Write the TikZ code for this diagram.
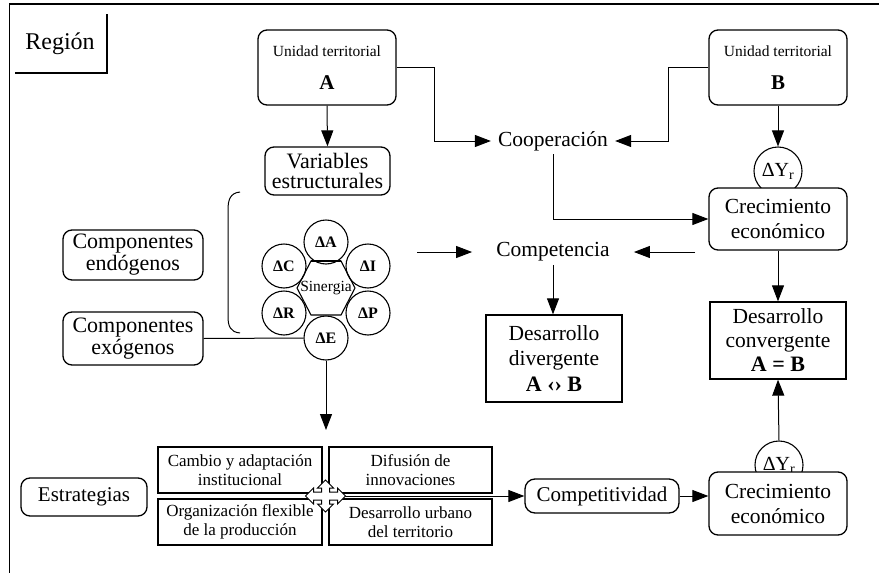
\documentclass[tikz,border=0pt]{standalone}
\usepackage{fontspec}
\setmainfont{Liberation Serif}
\usetikzlibrary{arrows.meta}
\newcommand\myfs[2]{\fontsize{#1}{#2}\selectfont}
\begin{document}
\begin{tikzpicture}[x=1pt,y=-1pt,
  rbox/.style={draw,line width=1.3pt,rounded corners=9pt,align=center,inner sep=0pt,fill=white},
  pbox/.style={draw,line width=1.3pt,align=center,inner sep=0pt,fill=white},
  sbox/.style={pbox,minimum height=46pt,font=\myfs{17}{19.5}},
  dcirc/.style={draw,circle,line width=1.1pt,inner sep=0pt,minimum size=44pt,font=\myfs{16}{16}\bfseries},
  ycirc/.style={draw,circle,line width=1.1pt,fill=white,inner sep=0pt,minimum size=48pt,font=\myfs{20}{20}},
  conn/.style={line width=1pt},
  arr/.style={conn,-{Triangle[length=16pt,width=12pt]}},
  lbl/.style={font=\myfs{21.5}{25},align=center}
]
\useasboundingbox (0,0) rectangle (879,573);
% frame
\draw[line width=1.6pt] (9.5,573) -- (9.5,4) -- (879,4);
\draw[line width=1.6pt] (15,73) -- (107,73) -- (107,14);
\node[font=\myfs{24}{24}] (reg) at (60,44) {Región};

% top boxes
\node[rbox,minimum width=138pt,minimum height=75pt,font=\myfs{15.5}{33}] (UA) at (327,67.5) {Unidad territorial\\{\myfs{21}{21}\bfseries A}};
\node[rbox,minimum width=138pt,minimum height=75pt,font=\myfs{15.5}{33}] (UB) at (778,67.5) {Unidad territorial\\{\myfs{21}{21}\bfseries B}};
\node[rbox,minimum width=125pt,minimum height=48pt,font=\myfs{22}{20}] (var) at (327.5,171) {Variables\\estructurales};

\node[lbl,inner xsep=7pt] (coop) at (553,141) {Cooperación};
\node[lbl,inner xsep=24pt] (comp) at (553,252) {Competencia};

\node[ycirc] (dY1) at (778,171) {ΔY\textsubscript{r}};
\node[rbox,minimum width=138pt,minimum height=62pt,font=\myfs{21.5}{25}] (crec1) at (778,219) {Crecimiento\\económico};

\node[pbox,minimum width=136pt,minimum height=87pt,font=\myfs{21.5}{25}] (div) at (554,358.5) {Desarrollo\\divergente\\[1pt]{\myfs{22}{22}\bfseries A ‹› B}};
\node[pbox,minimum width=136pt,minimum height=77pt,font=\myfs{21.5}{24}] (conv) at (778,340.5) {Desarrollo\\convergente\\{\myfs{22}{22}\bfseries A = B}};

% left side
\node[rbox,minimum width=140pt,minimum height=50pt,font=\myfs{22}{22}] (endo) at (133,255) {Componentes\\endógenos};
\node[rbox,minimum width=140pt,minimum height=53pt,font=\myfs{22}{22}] (exo) at (133,338.5) {Componentes\\exógenos};

% synergy ring
\node[dcirc] (dA) at (326,242) {ΔA};
\node[dcirc] (dC) at (284,266) {ΔC};
\node[dcirc] (dI) at (368,266) {ΔI};
\node[dcirc] (dR) at (284,313) {ΔR};
\node[dcirc] (dP) at (368,313) {ΔP};
\node[dcirc] (dE) at (326,338) {ΔE};
\draw[line width=1.1pt] (297,288) -- (311,261) -- (341,261) -- (355,288) -- (341,315) -- (311,315) -- cycle;
\draw[line width=2pt] (311,261) -- (341,261);
\node[font=\myfs{15.5}{15.5},inner sep=0pt] (syn) at (326,288) {Sinergia};

% bracket
\draw[conn] (240,192) .. controls (230,193) and (228,200) .. (228,210) -- (228,316) .. controls (228,326) and (230,332) .. (240,333);

% bottom
\node[rbox,minimum width=126pt,minimum height=38pt,font=\myfs{21}{22}] (estr) at (84,497) {Estrategias};
\node[sbox,minimum width=164pt] (s1) at (240,470) {Cambio y adaptación\\institucional};
\node[sbox,minimum width=164pt] (s2) at (240,522) {Organización flexible\\de la producción};
\node[sbox,minimum width=163pt] (s3) at (410.5,470) {Difusión de\\innovaciones};
\node[sbox,minimum width=163pt] (s4) at (410.5,522) {Desarrollo urbano\\del territorio};
\coordinate (x0) at (325.5,496);
\node[rbox,minimum width=154pt,minimum height=34pt,rounded corners=10pt,font=\myfs{21}{22}] (compv) at (602,496) {Competitividad};
\node[ycirc] (dY2) at (779,465) {ΔY\textsubscript{r}};
\node[rbox,minimum width=138pt,minimum height=63pt,font=\myfs{21.5}{25}] (crec2) at (778,503.5) {Crecimiento\\económico};

% connectors
\draw[arr] (UA.south) -- (var.north);
\draw[arr] (UA.east) -- ++(38,0) |- (coop.west);
\draw[arr] (UB.west) -- ++(-40,0) |- (coop.east);
\draw[arr] (coop.south) |- (crec1.west);
\draw[arr] (UB.south) -- (dY1.north);
\draw[arr] (crec1.south) -- (conv.north);
\coordinate (compL) at (417,252);
\coordinate (compR) at (695,252);
\draw[arr] (compL) -- (comp.west);
\draw[arr] (compR) -- (comp.east);
\draw[arr] (comp.south) -- (comp.south |- div.north);
\draw[conn] (exo.east) -- (dE.west);
\coordinate (dEend) at (326,430);
\draw[arr] (dE.south) -- (dEend);
\draw[arr] (x0) -- (compv.west);
\draw[arr] (compv.east) -- (compv.east -| crec2.west);
\draw[arr] (dY2.north) -- (conv.south);

% four-way cross
\draw[line width=1pt,fill=white] (x0)
  ++(4,-4) -- ++(8,0) -- ++(0,-4) -- ++(8,8) -- ++(-8,8) -- ++(0,-4) -- ++(-8,0)
  -- ++(0,4) -- ++(4,0) -- ++(-8,8) -- ++(-8,-8) -- ++(4,0) -- ++(0,-4)
  -- ++(-8,0) -- ++(0,4) -- ++(-8,-8) -- ++(8,-8) -- ++(0,4) -- ++(8,0)
  -- ++(0,-4) -- ++(-4,0) -- ++(8,-8) -- ++(8,8) -- ++(-4,0) -- cycle;
\end{tikzpicture}
\end{document}
